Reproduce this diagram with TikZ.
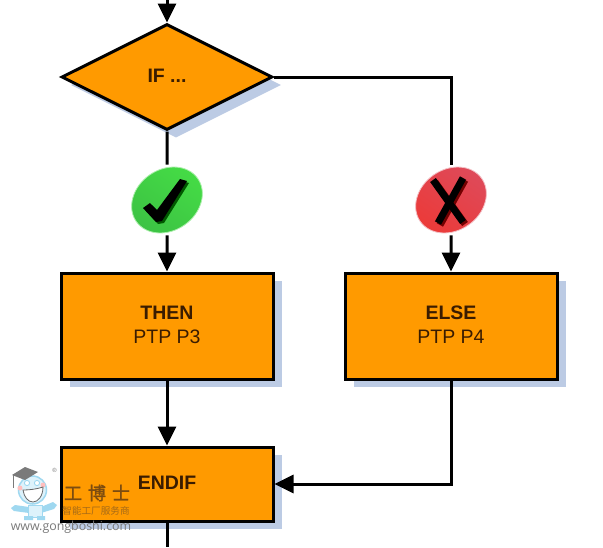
\documentclass[tikz,border=0pt]{standalone}
\usepackage{fontspec}
\setmainfont{Liberation Sans}
\newfontfamily\cjkfont[FakeBold=1.5]{Noto Sans CJK SC}
\newfontfamily\cjkthin{Noto Sans CJK SC}
\newfontfamily\urlfont{Open Sans}
\usetikzlibrary{shapes.geometric,shadows,arrows.meta}
\newcommand{\liftline}[1]{\raisebox{2pt}{#1}}
\definecolor{boxorange}{HTML}{FF9A00}
\definecolor{shadowblue}{HTML}{BCCBE4}
\definecolor{inktext}{HTML}{3A1C00}
\definecolor{wmgray}{HTML}{7A7A7A}
\definecolor{wmbrown}{HTML}{7C4C10}
\definecolor{wmsubc}{HTML}{A56A18}
\definecolor{wmblue}{HTML}{9FD8F0}
\definecolor{wmpale}{HTML}{DDF2FB}
\definecolor{okgreen}{HTML}{45DC45}
\definecolor{okgreenb}{HTML}{3CC244}
\definecolor{nored}{HTML}{DE4A5A}
\definecolor{noredb}{HTML}{EC3A38}
\tikzset{
  flowbase/.style={draw=black,line width=3pt,fill=boxorange,text=inktext,
    font=\fontsize{19.5}{24}\selectfont,align=center,inner sep=0pt,
    drop shadow={shadow xshift=9pt,shadow yshift=-8pt,opacity=1,fill=shadowblue}},
  flowbox/.style={flowbase,rectangle,minimum width=212pt},
  flowdiamond/.style={flowbase,diamond,minimum width=211pt,minimum height=106pt},
  badge/.style={ellipse,rotate=35,minimum width=75pt,minimum height=61pt,inner sep=0pt,outer sep=3pt},
  link/.style={line width=3pt,draw=black},
  flowarrow/.style={link,-{Triangle[length=19pt,width=18pt]}},
  wmtext/.style={inner sep=0pt}
}
\begin{document}
\begin{tikzpicture}[x=1pt,y=-1pt]
\useasboundingbox[fill=white] (0,0) rectangle (603,547);
\node[flowdiamond] (if) at (167,77) {\liftline{\textbf{IF ...}}};
\node[flowbox,minimum height=106pt] (then) at (167,326) {\liftline{\textbf{THEN}}\\\liftline{PTP P3}};
\node[flowbox,minimum height=106pt] (else) at (451,326) {\liftline{\textbf{ELSE}}\\\liftline{PTP P4}};
\node[flowbox,minimum height=74pt] (endif) at (167,484) {\liftline{\textbf{ENDIF}}};
\node[badge,draw=okgreen!45!white,line width=.8pt,top color=okgreen,bottom color=okgreenb,shading angle=-35] (check) at (167,200) {};
\node[badge,draw=nored!35!white,line width=.8pt,top color=nored,bottom color=noredb,shading angle=-35] (cross) at (451,200) {};
\coordinate (topin) at (167,0);
\coordinate (botout) at (167,547);
% connectors
\draw[flowarrow] (topin) -- (if.north);
\draw[link] (if.south) -- (check);
\draw[flowarrow] (check) -- (then.north);
\draw[link] (if.east) -| (cross);
\draw[flowarrow] (cross) -- (else.north);
\draw[flowarrow] (then.south) -- (endif.north);
\draw[flowarrow] (else.south) |- (endif.east);
\draw[link] (endif.south) -- (botout);
% check mark
\fill[green!35!black] (145,210) -- (152,205) -- (159,212) -- (182,181) -- (189,183) -- (164,223) -- (158,224) -- cycle;
\fill[black] (143,208) -- (150,203) -- (157,210) -- (180,179) -- (187,181) -- (162,221) -- (156,222) -- cycle;
% cross mark
\draw[line width=7pt,red!45!black] (435,182) -- (465,224);
\draw[line width=7pt,red!45!black] (465,180) -- (440,225);
\draw[line width=7pt,black] (433,180) -- (463,222);
\draw[line width=7pt,black] (463,178) -- (438,223);
% watermark
\begin{scope}
\fill[wmblue] (29,507) -- (15,505) -- (11,508) -- (14,511) -- (29,513) -- cycle;
\fill[wmblue] (41,507) -- (53,502) -- (57,505) -- (54,509) -- (41,513) -- cycle;
\fill[wmpale,draw=wmblue,line width=1pt] (28,505) rectangle (42,517);
\fill[wmblue] (24,516) rectangle (33,520) (37,516) rectangle (45,520);
\fill[wmpale,draw=wmblue,line width=1.5pt] (32.5,490) circle (14);
\fill[pink] (20,488) circle (2.5) (43,485) circle (2.5);
\fill[white,draw=wmblue,line width=.9pt] (27,483) circle (2.6) (37,483) circle (2.6);
\fill[white,draw=black!60,line width=.8pt] (23,490) .. controls (30,490) and (37,489) .. (43,487) .. controls (43,496) and (38,502) .. (33,502) .. controls (28,502) and (24,497) .. (23,490) -- cycle;
\fill[wmgray] (12,475) -- (25,467) -- (38,472) -- (25,480) -- cycle;
\draw[wmgray,line width=.8pt] (13,475) -- (13,488);
\end{scope}
\node[wmtext,text=wmgray,font=\fontsize{6}{6}\selectfont] (wmreg) at (54.5,470) {®};
\node[wmtext,text=wmbrown,font=\cjkfont\fontsize{18}{18}\selectfont] (wmname) at (97,493) {工\hspace{6pt}博\hspace{6pt}士};
\node[wmtext,text=wmsubc,font=\cjkthin\fontsize{9.6}{10}\selectfont] (wmsub) at (96,511) {智能工厂服务商};
\node[wmtext,text=wmgray,font=\urlfont\fontsize{12.4}{13}\selectfont] (wmurl) at (71,527) {www.gongboshi.com};
\end{tikzpicture}
\end{document}
